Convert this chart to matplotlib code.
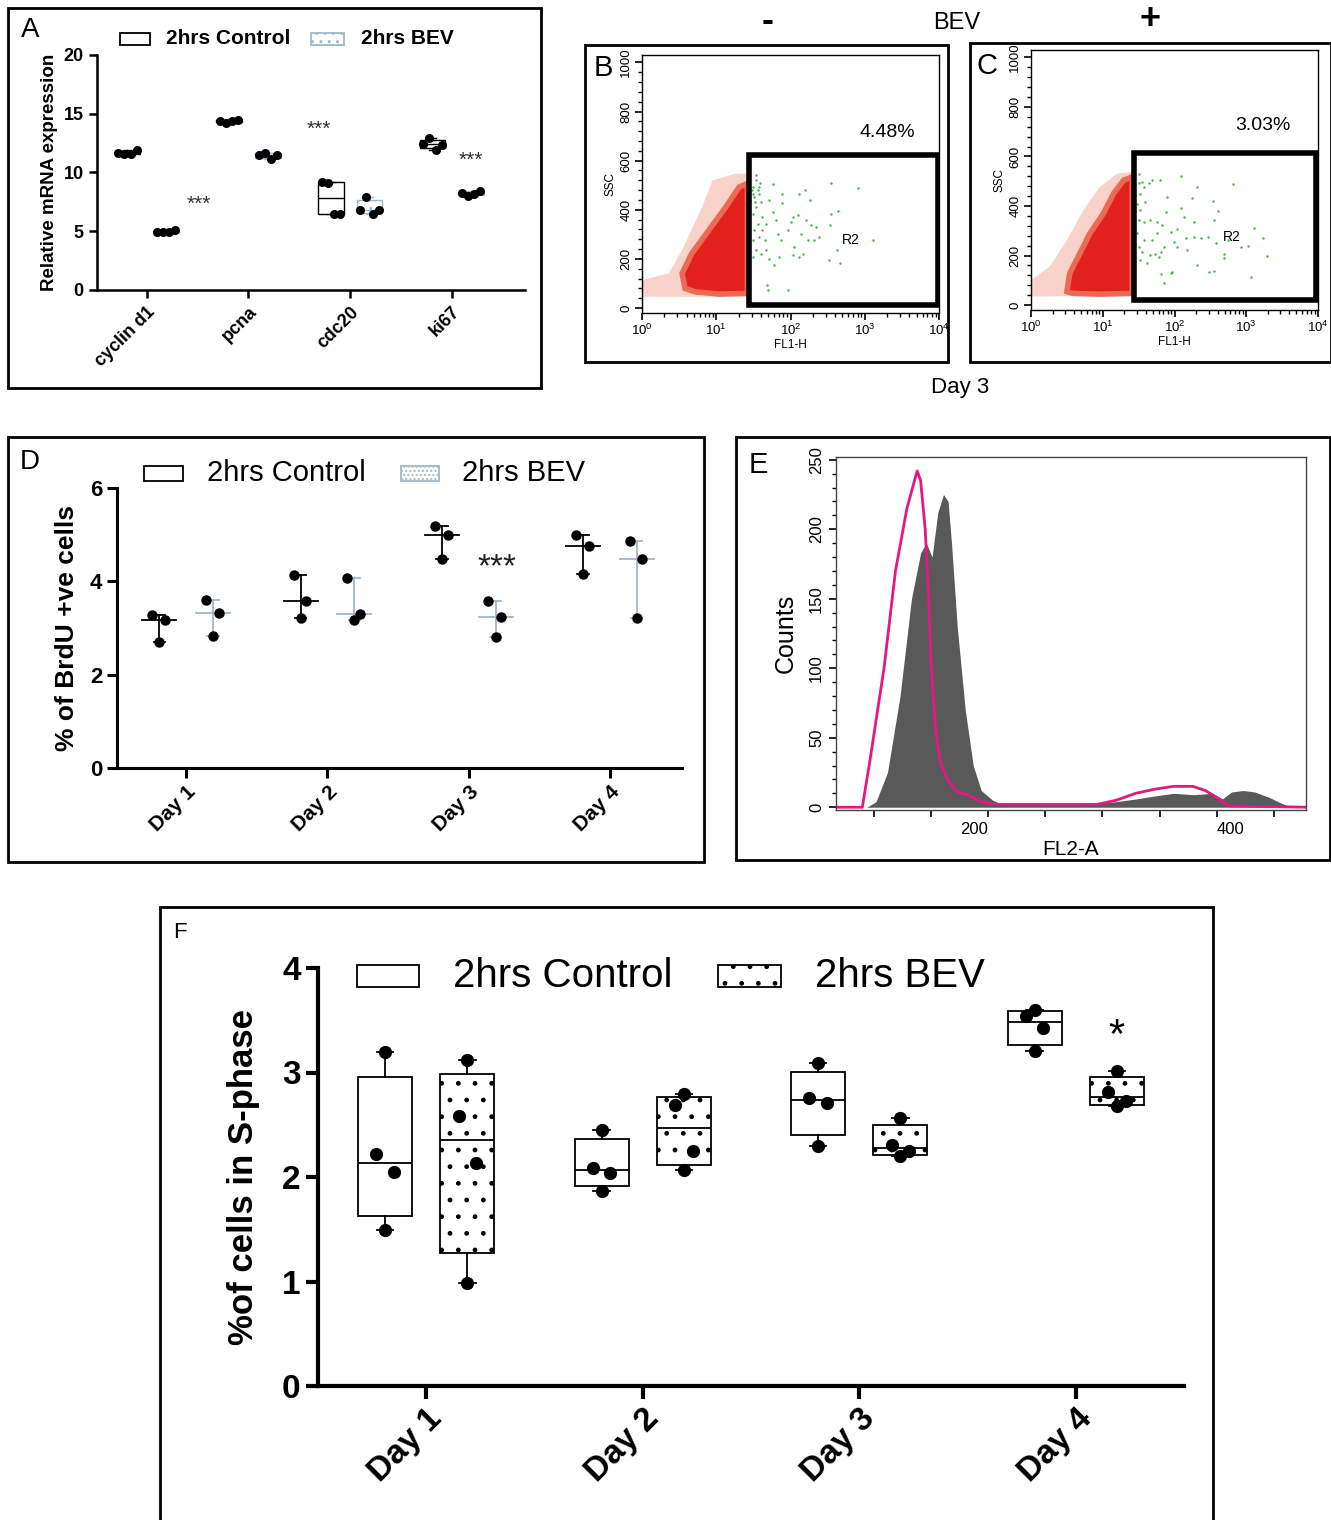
import numpy as np
import matplotlib
matplotlib.use("Agg")
import matplotlib.pyplot as plt
from matplotlib.patches import Rectangle, Polygon
from matplotlib.ticker import MultipleLocator, LogLocator, NullFormatter

W, H = 1331, 1520

# ---- panel A: relative mRNA expression (4 replicates)
A_GENES = ["cyclin d1", "pcna", "cdc20", "ki67"]
A_CTRL = [[11.7, 11.55, 11.6, 11.9], [14.4, 14.25, 14.35, 14.45],
          [9.2, 9.1, 6.5, 6.5], [12.45, 12.9, 11.95, 12.35]]
A_BEV = [[4.95, 4.95, 4.95, 5.1], [11.5, 11.7, 11.15, 11.45],
         [6.8, 7.9, 6.5, 6.8], [8.25, 8.0, 8.2, 8.4]]

# ---- panels B/C: BrdU flow cytometry, day 3 (log10 FL1-H, SSC)
B_HALO_LOGX = [0.0, 0.0, 0.36, 0.54, 0.81, 0.95, 1.26, 1.44, 1.44]
B_HALO_Y = [46, 114, 141, 236, 412, 520, 547, 547, 46]
B_CORE_LOGX = [0.58, 0.54, 0.67, 0.90, 1.13, 1.31, 1.42, 1.42, 1.04, 0.72]
B_CORE_Y = [80, 141, 222, 317, 412, 493, 507, 60, 57, 66]
B_GREEN_LOGX = [1.53, 1.49, 1.56, 1.51, 1.58, 1.60, 1.53, 1.49, 1.62, 1.56, 1.51, 1.58,
                1.65, 1.53, 1.60, 1.67, 1.71, 1.76, 1.77, 1.80, 1.83, 1.87, 1.89, 1.96,
                2.01, 2.03, 2.05, 2.10, 2.12, 2.14, 2.17, 2.19, 2.21, 2.23, 2.26, 2.28,
                2.32, 2.35, 2.38, 2.12, 2.03, 1.78, 1.71, 1.85, 1.89, 2.54, 2.91, 2.55,
                2.64, 2.53, 2.62, 2.52, 2.66, 1.69, 1.97, 1.70, 3.11, 1.62, 1.67, 1.54,
                1.59, 1.46, 1.49, 1.50, 1.48, 1.52, 1.57, 1.50]
B_GREEN_Y = [541, 493, 479, 452, 466, 432, 411, 384, 371, 344, 317, 290,
             277, 235, 222, 235, 439, 507, 392, 358, 303, 277, 466, 317,
             351, 371, 249, 378, 466, 303, 222, 479, 358, 277, 439, 337,
             277, 330, 290, 209, 215, 175, 201, 209, 426, 509, 490, 384,
             396, 337, 235, 197, 182, 94, 73, 73, 277, 317, 344, 520,
             509, 439, 277, 209, 479, 432, 493, 466]
B_GATE = [27.4, 12, 9700, 622]
B_PCT = "4.48%"

C_HALO_LOGX = [0.0, 0.0, 0.26, 0.50, 0.73, 0.96, 1.20, 1.43, 1.43]
C_HALO_Y = [34, 101, 155, 262, 383, 477, 531, 538, 40]
C_CORE_LOGX = [0.50, 0.54, 0.68, 0.82, 1.01, 1.15, 1.29, 1.41, 1.41, 0.96, 0.59]
C_CORE_Y = [54, 128, 208, 289, 370, 450, 504, 517, 47, 44, 47]
C_GREEN_LOGX = [1.50, 1.50, 1.55, 1.57, 1.64, 1.69, 1.80, 2.09, 2.32, 2.81, 1.52, 1.48,
                1.59, 1.52, 1.50, 1.57, 1.66, 1.76, 1.83, 1.90, 1.88, 2.09, 2.25, 2.53,
                2.60, 2.55, 2.27, 2.13, 2.04, 1.95, 1.76, 1.69, 1.57, 1.50, 1.55, 1.73,
                1.78, 1.81, 1.85, 1.99, 2.04, 2.18, 2.16, 2.27, 2.37, 2.46, 2.58, 2.69,
                2.74, 2.93, 3.02, 3.11, 3.23, 3.29, 2.32, 2.48, 2.55, 2.69, 1.95, 1.97,
                1.81, 1.86, 3.07, 1.52, 1.62, 1.66, 1.48]
C_GREEN_Y = [531, 491, 497, 477, 491, 504, 507, 522, 477, 488, 450, 410,
             417, 383, 343, 336, 343, 336, 323, 437, 376, 390, 434, 421,
             380, 343, 336, 356, 309, 296, 289, 262, 262, 235, 215, 208,
             195, 215, 235, 255, 235, 222, 269, 276, 269, 276, 249, 208,
             262, 235, 238, 313, 269, 198, 161, 134, 137, 188, 128, 134,
             125, 90, 112, 181, 168, 202, 289]
C_GATE = [27.0, 20, 9500, 614]
C_PCT = "3.03%"

# ---- panel D: % BrdU +ve cells (3 replicates)
DAYS = ["Day 1", "Day 2", "Day 3", "Day 4"]
D_CTRL = [[3.27, 3.18, 2.71], [4.14, 3.58, 3.21], [5.18, 4.99, 4.47], [5.0, 4.75, 4.15]]
D_BEV = [[3.61, 3.33, 2.82], [4.07, 3.30, 3.18], [3.57, 3.24, 2.80], [4.87, 4.47, 3.21]]

# ---- panel E: cell-cycle histogram (FL2-A vs counts)
E_GRAY_X = [67, 94, 102, 112, 123, 133, 141, 146, 151, 156, 161, 165, 168, 173, 180, 187,
            194, 204, 210, 240, 270, 300, 312, 330, 345, 362, 380, 396, 405, 413, 423,
            433, 446, 456, 466, 478]
E_GRAY_Y = [0, 0, 4, 25, 80, 150, 183, 190, 180, 212, 225, 220, 190, 130, 70, 30,
            12, 5, 3, 3, 2, 3, 4, 6, 8, 10, 9, 10, 6, 11, 12,
            11, 7, 3, 0, 0]
E_MAG_X = [67, 90, 96, 109, 119, 129, 138, 141, 145, 148, 150, 154, 158, 165, 173, 182,
           194, 207, 295, 312, 329, 346, 362, 379, 390, 400, 410, 478]
E_MAG_Y = [0, 0, 30, 100, 170, 215, 242, 235, 200, 152, 104, 57, 33, 19, 11, 9,
           4, 2, 2, 5, 10, 13, 15, 15, 12, 7, 1, 0]

# ---- panel F: % cells in S-phase (4 replicates)
F_CTRL = [[3.20, 2.22, 2.05, 1.49], [2.45, 2.09, 2.04, 1.87],
          [3.09, 2.76, 2.71, 2.30], [3.60, 3.54, 3.43, 3.21]]
F_BEV = [[3.12, 2.58, 2.13, 0.99], [2.79, 2.69, 2.25, 2.07],
         [2.56, 2.31, 2.25, 2.20], [3.01, 2.81, 2.73, 2.68]]

NARROW = ["Liberation Sans Narrow", "Liberation Sans"]
BEV_EDGE = "#9fb8cc"
plt.rcParams["font.family"] = ["Liberation Sans", "DejaVu Sans"]
plt.rcParams["hatch.linewidth"] = 1.0


def axes_px(fig, x0, y0, x1, y1):
    return fig.add_axes([x0 / W, 1 - y1 / H, (x1 - x0) / W, (y1 - y0) / H])


def frame_px(fig, x0, y0, x1, y1, lw=2.0):
    fig.add_artist(Rectangle((x0 / W, 1 - y1 / H), (x1 - x0) / W, (y1 - y0) / H,
                             transform=fig.transFigure, fill=False, lw=lw, ec="black"))


def text_px(fig, x, y, s, **kw):
    kw.setdefault("ha", "center")
    kw.setdefault("va", "center")
    fig.text(x / W, 1 - y / H, s, **kw)


def legend_px(fig, items, y, h, fontsize, weight="normal"):
    for (bx0, bx1, tx, label, hatch, edge) in items:
        fig.add_artist(Rectangle((bx0 / W, 1 - (y + h / 2) / H), (bx1 - bx0) / W, h / H,
                                 transform=fig.transFigure, facecolor="white",
                                 edgecolor=edge, hatch=hatch, lw=1.3))
        text_px(fig, tx, y, label, ha="left", fontsize=fontsize, fontweight=weight)


def graphpad_axes(ax, lw, ticklen):
    for side in ("top", "right"):
        ax.spines[side].set_visible(False)
    for side in ("left", "bottom"):
        ax.spines[side].set_linewidth(lw)
    ax.tick_params(direction="out", length=ticklen, width=lw)


def box(ax, pos, vals, width, edge, hatch=None, lw=1.2):
    q1, med, q3 = np.percentile(vals, [25, 50, 75], method="weibull")
    stats = [dict(med=med, q1=q1, q3=q3, whislo=min(vals), whishi=max(vals), fliers=[])]
    ax.bxp(stats, positions=[pos], widths=width, patch_artist=True, showfliers=False,
           capwidths=[width * 0.3], manage_ticks=False,
           boxprops=dict(facecolor="white", edgecolor=edge, hatch=hatch, linewidth=lw),
           medianprops=dict(color=edge, linewidth=lw),
           whiskerprops=dict(color=edge, linewidth=lw),
           capprops=dict(color=edge, linewidth=lw))


def range_mark(ax, pos, vals, color, lw):
    med = np.median(vals)
    ax.plot([pos - 0.12, pos + 0.12], [med, med], color=color, lw=lw, zorder=2)
    ax.plot([pos, pos], [min(vals), max(vals)], color=color, lw=lw, zorder=2)
    for v in (min(vals), max(vals)):
        ax.plot([pos - 0.04, pos + 0.04], [v, v], color=color, lw=lw, zorder=2)


fig = plt.figure(figsize=(W / 100, H / 100), dpi=100)

# ================= panel A =================
frame_px(fig, 8, 8, 541, 388)
text_px(fig, 30, 30, "A", fontsize=20)
ax = axes_px(fig, 97, 55, 525, 290)
spread4 = [-0.09, -0.03, 0.03, 0.09]
x = np.arange(len(A_GENES))
for i in range(len(A_GENES)):
    box(ax, x[i] - 0.19, A_CTRL[i], 0.25, "black", lw=1.0)
    box(ax, x[i] + 0.19, A_BEV[i], 0.25, BEV_EDGE, hatch="..", lw=1.0)
    ax.plot(x[i] - 0.19 + np.array(spread4), A_CTRL[i], "o", color="black", ms=5.5, zorder=3)
    ax.plot(x[i] + 0.19 + np.array(spread4), A_BEV[i], "o", color="black", ms=5.5, zorder=3)
for sx, sy in [(0.51, 7.3), (1.69, 13.7), (3.19, 11.0)]:
    ax.text(sx, sy, "***", ha="center", va="center", fontsize=15, color="#333333")
ax.set_xlim(-0.49, 3.72)
ax.set_ylim(0, 20)
ax.set_yticks([0, 5, 10, 15, 20])
ax.set_xticks(x)
ax.set_xticklabels(A_GENES, rotation=45, ha="right", rotation_mode="anchor",
                   fontsize=13, fontweight="bold")
for lab in ax.get_yticklabels():
    lab.set_fontweight("bold")
    lab.set_fontsize(13)
ax.set_ylabel("Relative mRNA expression", fontsize=13.5, fontweight="bold", labelpad=4)
graphpad_axes(ax, 1.8, 6)
legend_px(fig, [(120, 150, 166, "2hrs Control", None, "black"),
                (311, 344, 361, "2hrs BEV", "..", BEV_EDGE)], 39, 12, 15, "bold")

# ================= panels B, C =================
text_px(fig, 768, 22, "-", fontsize=26, fontweight="bold")
text_px(fig, 957, 23, "BEV", fontsize=17)
text_px(fig, 1150, 19, "+", fontsize=26, fontweight="bold")
text_px(fig, 960, 388, "Day 3", fontsize=16)

flow = [
    ("B", (585, 45, 948, 362), (603, 68), (642, 55, 939, 313),
     B_HALO_LOGX, B_HALO_Y, B_CORE_LOGX, B_CORE_Y, B_GREEN_LOGX, B_GREEN_Y,
     B_GATE, B_PCT, (3.31, 715), (2.81, 276)),
    ("C", (970, 43, 1331, 362), (987, 66), (1031, 50, 1318, 310),
     C_HALO_LOGX, C_HALO_Y, C_CORE_LOGX, C_CORE_Y, C_GREEN_LOGX, C_GREEN_Y,
     C_GATE, C_PCT, (3.23, 726), (2.80, 274)),
]
for (letter, fr, lp, rect, hx, hy, cx, cy, gx, gy, gate, pct, ppos, rpos) in flow:
    frame_px(fig, *fr)
    text_px(fig, lp[0], lp[1], letter, fontsize=21)
    ax = axes_px(fig, *rect)
    ax.set_xscale("log")
    ax.set_xlim(1, 1e4)
    ax.set_ylim(-20, 1030)
    ax.add_patch(Polygon(np.column_stack([10 ** np.array(hx), hy]), closed=True,
                         facecolor="#f7c0b2", edgecolor="none", alpha=0.7, zorder=1))
    ax.add_patch(Polygon(np.column_stack([10 ** np.array(cx), cy]), closed=True,
                         facecolor="#e3211c", edgecolor="#ec6a55", lw=4, zorder=2))
    ax.scatter(10 ** np.array(gx), gy, s=3, color="#3cb83c", zorder=3, linewidths=0)
    ax.add_patch(Rectangle((gate[0], gate[1]), gate[2] - gate[0], gate[3] - gate[1],
                           fill=False, lw=4, ec="black", zorder=4))
    ax.text(10 ** ppos[0], ppos[1], pct, ha="center", va="center", fontsize=14)
    ax.text(10 ** rpos[0], rpos[1], "R2", ha="center", va="center", fontsize=10)
    ax.xaxis.set_major_locator(LogLocator(base=10, numticks=10))
    ax.xaxis.set_minor_locator(LogLocator(base=10, subs=np.arange(2, 10), numticks=10))
    ax.xaxis.set_minor_formatter(NullFormatter())
    ax.set_yticks([0, 200, 400, 600, 800, 1000])
    ax.yaxis.set_minor_locator(MultipleLocator(40))
    ax.tick_params(axis="both", which="major", labelsize=9.5, length=5, width=1.2, pad=2)
    ax.tick_params(axis="both", which="minor", length=3, width=1)
    ax.tick_params(axis="y", labelrotation=90)
    for lab in ax.get_yticklabels():
        lab.set_va("center")
    for s in ax.spines.values():
        s.set_linewidth(1.0)
    ax.set_xlabel("FL1-H", fontsize=8.5, labelpad=1)
    ax.set_ylabel("SSC", fontsize=8.5, labelpad=3)

# ================= panel D =================
frame_px(fig, 8, 437, 704, 862)
text_px(fig, 30, 462, "D", fontsize=20)
ax = axes_px(fig, 117, 488, 682, 768)
spread3 = [-0.05, 0.04, 0.0]
xd = np.arange(len(DAYS))
for i in range(len(DAYS)):
    range_mark(ax, xd[i] - 0.19, D_CTRL[i], "black", 1.3)
    range_mark(ax, xd[i] + 0.19, D_BEV[i], BEV_EDGE, 1.3)
    ax.plot(xd[i] - 0.19 + np.array(spread3), D_CTRL[i], "o", color="black", ms=6.5, zorder=3)
    ax.plot(xd[i] + 0.19 + np.array(spread3), D_BEV[i], "o", color="black", ms=6.5, zorder=3)
ax.text(2.2, 4.3, "***", ha="center", va="center", fontsize=24, color="#222222")
ax.set_xlim(-0.49, 3.51)
ax.set_ylim(0, 6)
ax.set_yticks([0, 2, 4, 6])
ax.set_xticks(xd)
ax.set_xticklabels(DAYS, rotation=45, ha="right", rotation_mode="anchor",
                   fontsize=15, fontweight="bold")
for lab in ax.get_yticklabels():
    lab.set_fontweight("bold")
    lab.set_fontsize(16)
ax.set_ylabel("% of BrdU +ve cells", family=NARROW, fontsize=19, fontweight="bold", labelpad=8)
graphpad_axes(ax, 2.2, 7)
legend_px(fig, [(144, 183, 207, "2hrs Control", None, "black"),
                (401, 439, 462, "2hrs BEV", "....", BEV_EDGE)], 473, 15, 21)

# ================= panel E =================
frame_px(fig, 736, 437, 1330, 860)
text_px(fig, 758, 465, "E", fontsize=21)
ax = axes_px(fig, 836, 457, 1306, 810)
ax.fill_between(E_GRAY_X, E_GRAY_Y, 0, color="#595959", lw=0, zorder=1)
ax.plot(E_MAG_X, E_MAG_Y, color="#e6177f", lw=2, zorder=2)
ax.set_xlim(67, 478)
ax.set_ylim(-2, 252)
ax.set_xticks(np.arange(100, 451, 50))
ax.set_xticklabels(["" if v not in (200, 400) else str(v) for v in range(100, 451, 50)])
for lab in ax.get_xticklabels():
    if lab.get_text() == "200":
        lab.set_ha("right")
    elif lab.get_text() == "400":
        lab.set_ha("left")
ax.set_yticks([0, 50, 100, 150, 200, 250])
ax.yaxis.set_minor_locator(MultipleLocator(10))
ax.tick_params(axis="both", which="major", labelsize=12, length=5, width=1.2)
ax.tick_params(axis="y", which="minor", length=3, width=1)
ax.tick_params(axis="y", labelrotation=90)
for lab in ax.get_yticklabels():
    lab.set_va("center")
for s in ax.spines.values():
    s.set_linewidth(1.0)
    s.set_color("#444444")
ax.set_xlabel("FL2-A", fontsize=15, labelpad=2)
ax.set_ylabel("Counts", fontsize=18, labelpad=8)

# ================= panel F =================
frame_px(fig, 160, 907, 1213, 1530)
text_px(fig, 180, 932, "F", fontsize=16)
ax = axes_px(fig, 318, 968, 1184, 1386)
spread4f = [0.0, -0.04, 0.04, 0.0]
xf = np.arange(len(DAYS))
for i in range(len(DAYS)):
    box(ax, xf[i] - 0.19, F_CTRL[i], 0.25, "black", lw=1.3)
    box(ax, xf[i] + 0.19, F_BEV[i], 0.25, "black", hatch=".", lw=1.3)
    ax.plot(xf[i] - 0.19 + np.array(spread4f), F_CTRL[i], "o", color="black", ms=8.5, zorder=3)
    ax.plot(xf[i] + 0.19 + np.array(spread4f), F_BEV[i], "o", color="black", ms=8.5, zorder=3)
ax.text(3.19, 3.34, "*", ha="center", va="center", fontsize=30)
ax.set_xlim(-0.5, 3.5)
ax.set_ylim(0, 4)
ax.set_yticks([0, 1, 2, 3, 4])
ax.set_xticks(xf)
ax.set_xticklabels(DAYS, rotation=45, ha="right", rotation_mode="anchor",
                   fontsize=24, fontweight="bold")
for lab in ax.get_yticklabels():
    lab.set_fontweight("bold")
    lab.set_fontsize(24)
ax.set_ylabel("%of cells in S-phase", family=NARROW, fontsize=25, fontweight="bold", labelpad=16)
graphpad_axes(ax, 3.0, 9)
legend_px(fig, [(357, 419, 453, "2hrs Control", None, "black"),
                (718, 781, 815, "2hrs BEV", ".", "black")], 976, 22, 29)

fig.savefig("out.png", dpi=100)
